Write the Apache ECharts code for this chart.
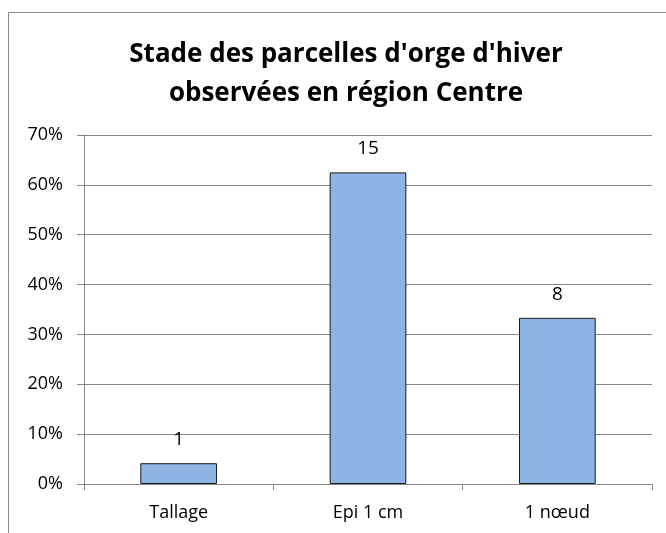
<!DOCTYPE html>
<html>
<head>
<meta charset="utf-8">
<script src="https://cdn.jsdelivr.net/npm/echarts@6/dist/echarts.min.js"></script>
<style>
html,body{margin:0;padding:0;background:#fff;}
#chart{width:666px;height:533px;}
</style>
</head>
<body>
<div id="chart"></div>
<script>
const categories = ['Tallage', 'Epi 1 cm', '1 nœud'];
const counts = [1, 15, 8];
const percents = [4.17, 62.5, 33.33];
const yTicks = [0, 10, 20, 30, 40, 50, 60, 70];
const titleText = "Stade des parcelles d'orge d'hiver\nobservées en région Centre";

const chart = echarts.init(document.getElementById('chart'), null, {renderer: 'canvas'});
const FONT = 'Open Sans';
chart.setOption({
  animation: false,
  backgroundColor: '#fff',
  title: {
    text: titleText,
    left: 341,
    top: 30,
    textAlign: 'center',
    textStyle: {
      fontFamily: FONT,
      fontWeight: 'bold',
      fontSize: 26,
      lineHeight: 39,
      color: '#000'
    }
  },
  graphic: [{
    type: 'rect',
    shape: {x: 8.5, y: 12.5, width: 700, height: 600},
    style: {fill: 'none', stroke: '#8c8c8c', lineWidth: 1},
    silent: true,
    z: -1
  }],
  grid: {left: 84, right: 14, top: 135, bottom: 49, containLabel: false},
  xAxis: {
    type: 'category',
    data: categories,
    boundaryGap: true,
    axisLine: {lineStyle: {color: '#868686', width: 1}},
    axisTick: {show: true, length: 6, lineStyle: {color: '#868686'}},
    axisLabel: {fontFamily: FONT, fontSize: 18, color: '#000', margin: 20}
  },
  yAxis: {
    type: 'value',
    min: 0,
    max: 70,
    interval: 10,
    axisLine: {show: true, lineStyle: {color: '#868686', width: 1}},
    axisTick: {show: true, length: 7, lineStyle: {color: '#868686'}},
    splitLine: {show: true, lineStyle: {color: '#868686', width: 1}},
    axisLabel: {
      fontFamily: FONT, fontSize: 18, color: '#000', margin: 21,
      formatter: v => yTicks.includes(v) ? v + '%' : ''
    }
  },
  series: [{
    type: 'bar',
    data: percents,
    barWidth: '40.5%',
    itemStyle: {color: '#8EB4E3', borderColor: '#1a1a1a', borderWidth: 1},
    label: {
      show: true,
      position: 'top',
      distance: 14,
      fontFamily: FONT,
      fontSize: 19,
      color: '#000',
      formatter: p => String(counts[p.dataIndex])
    }
  }]
});
</script>
</body>
</html>
